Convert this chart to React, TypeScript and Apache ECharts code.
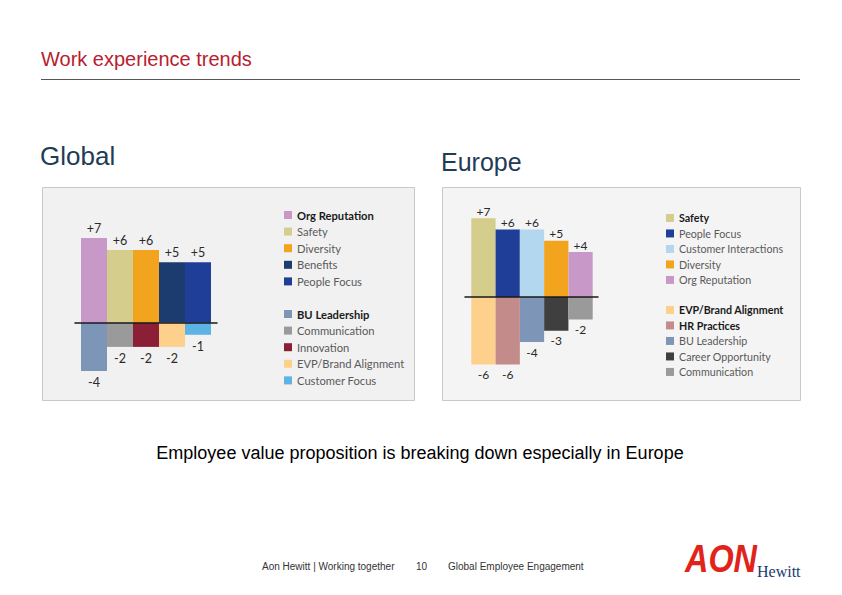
import React, { useEffect, useRef } from "react";
import * as echarts from "echarts";

// ---- data ----
const categories = ["1", "2", "3", "4", "5"];

const globalPosNames = ["Org Reputation", "Safety", "Diversity", "Benefits", "People Focus"];
const globalPosValues = [7, 6, 6, 5, 5];
const globalNegNames = ["BU Leadership", "Communication", "Innovation", "EVP/Brand Alignment", "Customer Focus"];
const globalNegValues = [-4, -2, -2, -2, -1];

const europePosNames = ["Safety", "People Focus", "Customer Interactions", "Diversity", "Org Reputation"];
const europePosValues = [7, 6, 6, 5, 4];
const europeNegNames = ["EVP/Brand Alignment", "HR Practices", "BU Leadership", "Career Opportunity", "Communication"];
const europeNegValues = [-6, -6, -4, -3, -2];

const globalBold = ["Org Reputation", "BU Leadership"];
const europeBold = ["Safety", "EVP/Brand Alignment", "HR Practices"];

const COLORS: Record<string, string> = {
  "Org Reputation": "#c898c8",
  Safety: "#d4cd8c",
  Diversity: "#f2a41e",
  Benefits: "#1c3b6e",
  "People Focus": "#1e3e98",
  "Customer Interactions": "#b3d7ef",
  "BU Leadership": "#7d95b6",
  Communication: "#9a9a9a",
  Innovation: "#8b1f35",
  "EVP/Brand Alignment": "#fdd18b",
  "Customer Focus": "#5cb3e4",
  "HR Practices": "#c48b8b",
  "Career Opportunity": "#3f3f3f",
};

const FONT_N = "Lato, 'DejaVu Sans Condensed', sans-serif";
const FONT = "'Liberation Sans', Arial, sans-serif";

function buildSeries(
  names: string[],
  values: number[],
  axis: number,
  pos: string,
  dist: number,
  fontSize: number
) {
  return names.map((name, i) => ({
    name,
    type: "bar",
    xAxisIndex: axis,
    yAxisIndex: axis,
    stack: "panel" + axis,
    barWidth: "100%",
    data: categories.map((_, j) => (j === i ? values[i] : "-")),
    itemStyle: { color: COLORS[name] },
    label: {
      show: true,
      position: pos,
      distance: dist,
      formatter: (p: any) => (p.value > 0 ? `+${p.value}` : `${p.value}`),
      fontFamily: FONT_N,
      fontSize,
      color: "#2a2a2a",
    },
  }));
}

function legendData(names: string[], bold: string[]) {
  return names.map((n) =>
    bold.includes(n) ? { name: n, textStyle: { fontWeight: "bold", color: "#1a1a1a" } } : { name: n }
  );
}

function legend(names: string[], bold: string[], left: number, top: number, fontSize: number, lineHeight: number) {
  return {
    orient: "vertical",
    left,
    top,
    padding: 0,
    itemGap: 0,
    itemWidth: 8,
    itemHeight: 8,
    icon: "rect",
    selectedMode: false,
    data: legendData(names, bold),
    textStyle: { fontFamily: FONT_N, fontSize, lineHeight, color: "#5a5a5a" },
  };
}

export default function App() {
  const ref = useRef<HTMLDivElement>(null);
  useEffect(() => {
    const chart = echarts.init(ref.current!, null, { renderer: "svg" });
    const hiddenX = (z = 0, show = false) => ({
      type: "category",
      data: categories,
      axisLine: { show, onZero: true, lineStyle: { color: "#1a1a1a", width: 1.5 } },
      axisTick: { show: false },
      axisLabel: { show: false },
      splitLine: { show: false },
      z,
    });
    const hiddenY = (min: number, max: number) => ({
      type: "value",
      min,
      max,
      show: false,
      splitLine: { show: false },
    });
    chart.setOption({
      animation: false,
      backgroundColor: "#ffffff",
      grid: [
        { left: 81, width: 130, top: 225.9, height: 169.4 },
        { left: 75, width: 142, top: 225.9, height: 169.4 },
        { left: 471.3, width: 121.4, top: 207, height: 168.75 },
        { left: 465, width: 133, top: 207, height: 168.75 },
      ],
      xAxis: [
        { ...hiddenX(), gridIndex: 0 },
        { ...hiddenX(10, true), gridIndex: 1 },
        { ...hiddenX(), gridIndex: 2 },
        { ...hiddenX(10, true), gridIndex: 3 },
      ],
      yAxis: [
        { ...hiddenY(-6, 8), gridIndex: 0 },
        { ...hiddenY(-6, 8), gridIndex: 1 },
        { ...hiddenY(-7, 8), gridIndex: 2 },
        { ...hiddenY(-7, 8), gridIndex: 3 },
      ],
      legend: [
        legend(globalPosNames, globalBold, 284, 206.7, 11.2, 16.6),
        legend(globalNegNames, globalBold, 284, 305.7, 11.2, 16.6),
        legend(europePosNames, europeBold, 666, 210.2, 10.7, 15.5),
        legend(europeNegNames, europeBold, 666, 302.2, 10.7, 15.5),
      ],
      series: [
        ...buildSeries(globalPosNames, globalPosValues, 0, "top", 3, 12.5),
        ...buildSeries(globalNegNames, globalNegValues, 0, "bottom", 5, 12.5),
        ...buildSeries(europePosNames, europePosValues, 2, "top", 1, 12),
        ...buildSeries(europeNegNames, europeNegValues, 2, "bottom", 4, 12),
      ],
      graphic: [
        { type: "rect", z: -10, shape: { x: 42.5, y: 187.5, width: 372, height: 213 }, style: { fill: "#f1f1f1", stroke: "#c9c9c9", lineWidth: 1 } },
        { type: "rect", z: -10, shape: { x: 442.5, y: 187.5, width: 358, height: 213 }, style: { fill: "#f4f4f4", stroke: "#c9c9c9", lineWidth: 1 } },
        { type: "text", x: 41, y: 59, style: { text: "Work experience trends", fill: "#b8202f", font: `20px ${FONT}`, textVerticalAlign: "middle" } },
        { type: "line", shape: { x1: 41, y1: 79.5, x2: 800, y2: 79.5 }, style: { stroke: "#555555", lineWidth: 1 } },
        { type: "text", x: 40, y: 156, style: { text: "Global", fill: "#1f3b55", font: `26px ${FONT}`, textVerticalAlign: "middle" } },
        { type: "text", x: 441, y: 162, style: { text: "Europe", fill: "#1f3b55", font: `25px ${FONT}`, textVerticalAlign: "middle" } },
        { type: "text", x: 420, y: 453, style: { text: "Employee value proposition is breaking down especially in Europe", fill: "#000000", font: `18px ${FONT}`, textAlign: "center", textVerticalAlign: "middle" } },
        { type: "text", x: 262, y: 566, style: { text: "Aon Hewitt | Working together", fill: "#333333", font: `10px ${FONT}`, textVerticalAlign: "middle" } },
        { type: "text", x: 416, y: 566, style: { text: "10", fill: "#333333", font: `10px ${FONT}`, textVerticalAlign: "middle" } },
        { type: "text", x: 448, y: 566, style: { text: "Global Employee Engagement", fill: "#333333", font: `10px ${FONT}`, textVerticalAlign: "middle" } },
        { type: "text", x: 685, y: 578, scaleX: 0.9, scaleY: 1.1, style: { text: "AON", fill: "#e2231a", font: `italic 900 36px ${FONT}`, textVerticalAlign: "bottom" } },
        { type: "text", x: 757, y: 579, style: { text: "Hewitt", fill: "#1b3a6b", font: `16px 'Liberation Serif', serif`, textVerticalAlign: "bottom" } },
      ],
    });
    return () => chart.dispose();
  }, []);
  return <div ref={ref} style={{ position: "absolute", left: 0, top: 0, width: 842, height: 595 }} />;
}
